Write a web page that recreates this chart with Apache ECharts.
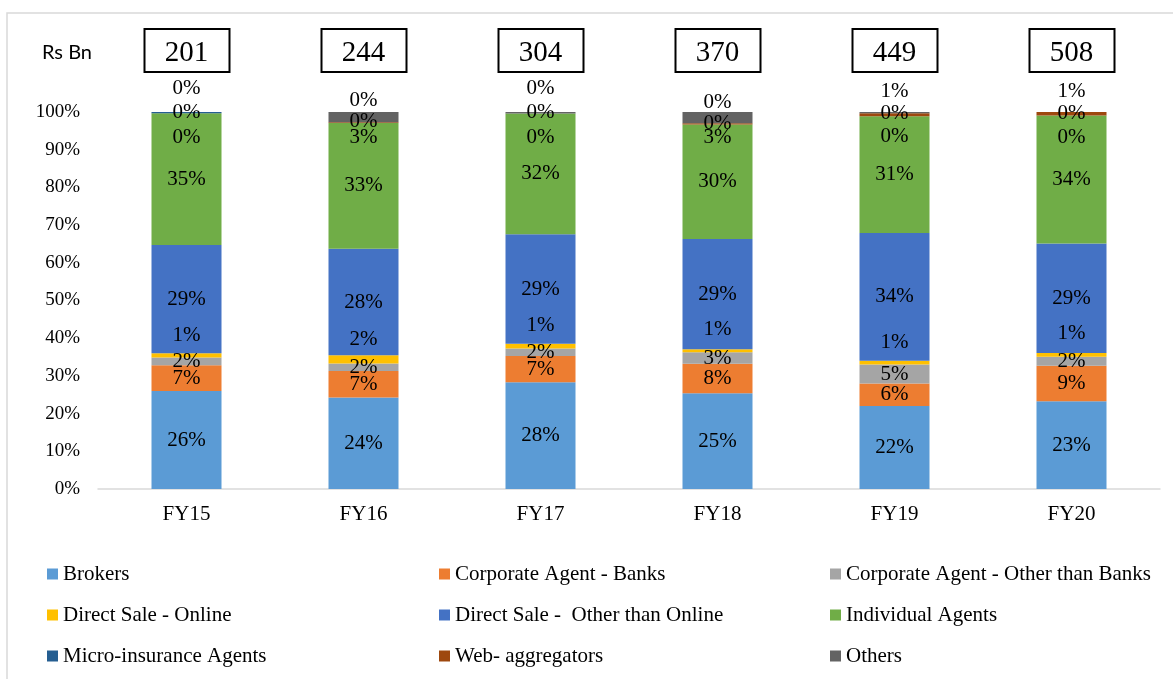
<!DOCTYPE html>
<html>
<head>
<meta charset="utf-8">
<title>Channel mix</title>
<script src="https://cdn.jsdelivr.net/npm/echarts@6/dist/echarts.min.js"></script>
<style>
  html, body { margin: 0; padding: 0; background: #fff; }
  #chart { width: 1173px; height: 679px; }
</style>
</head>
<body>
<div id="chart"></div>
<script>
// Fiscal years and total premium (Rs Bn)
const categories = ['FY15', 'FY16', 'FY17', 'FY18', 'FY19', 'FY20'];
const totals = [201, 244, 304, 370, 449, 508];

// Channel share of premium, % of total
const brokers    = [26.0, 24.3, 28.3, 25.4, 22.0, 23.3];
const corpBanks  = [6.8, 7.0, 7.0, 7.8, 6.0, 9.4];
const corpOther  = [2.1, 2.0, 2.0, 3.1, 5.0, 2.4];
const dsOnline   = [1.1, 2.2, 1.2, 0.8, 1.0, 1.0];
const dsOther    = [28.7, 28.2, 29.1, 29.2, 33.9, 29.0];
const individual = [35.0, 33.4, 32.0, 30.4, 31.0, 34.0];
const micro      = [0.3, 0, 0, 0, 0, 0];
const webAgg     = [0, 0.2, 0, 0.3, 0.8, 0.9];
const others     = [0, 2.7, 0.4, 3.0, 0.3, 0];

const yTicks = [0, 10, 20, 30, 40, 50, 60, 70, 80, 90, 100];

// Vertical nudges (px) that keep labels of thin segments apart
const onlineNudge = [-20, -20, -21, -21, -20, -21];
const webNudge    = [-24, -22, -25, -21, -23, -22];
const microNudge  = [0, -1, -1, -1, -3, -2];
const othersNudge = [25, 20, 25, 20, 24, 25];

const serif = 'Liberation Serif';
const labelFont = { fontFamily: serif, fontSize: 21, color: '#000' };

const seriesDefs = [
  { name: 'Brokers', data: brokers, color: '#5B9BD5' },
  { name: 'Corporate Agent - Banks', data: corpBanks, color: '#ED7D31' },
  { name: 'Corporate Agent - Other than Banks', data: corpOther, color: '#A5A5A5' },
  { name: 'Direct Sale - Online', data: dsOnline, color: '#FFC000', nudge: onlineNudge },
  { name: 'Direct Sale -  Other than Online', data: dsOther, color: '#4472C4' },
  { name: 'Individual Agents', data: individual, color: '#70AD47' },
  { name: 'Micro-insurance Agents', data: micro, color: '#255E91', nudge: microNudge },
  { name: 'Web- aggregators', data: webAgg, color: '#9E480E', nudge: webNudge },
  { name: 'Others', data: others, color: '#636363', nudge: othersNudge }
];

const series = seriesDefs.map(d => ({
  name: d.name,
  type: 'bar',
  stack: 'share',
  barWidth: 70,
  itemStyle: { color: d.color },
  label: Object.assign({
    show: true,
    position: 'inside',
    formatter: p => Math.round(p.value) + '%'
  }, labelFont),
  labelLayout: d.nudge
    ? (p => ({ dy: d.nudge[p.dataIndex], hideOverlap: false }))
    : { hideOverlap: false },
  data: d.data
}));

const legendCommon = {
  orient: 'vertical',
  top: 563,
  padding: 0,
  itemWidth: 11,
  itemHeight: 11,
  itemGap: 19,
  icon: 'rect',
  selectedMode: false,
  textStyle: { fontFamily: serif, fontSize: 21, color: '#000', lineHeight: 22 }
};

const chart = echarts.init(document.getElementById('chart'), null, { renderer: 'canvas' });

chart.setOption({
  animation: false,
  backgroundColor: '#fff',
  grid: { left: 98, right: 13, top: 112, bottom: 190, containLabel: false },
  xAxis: {
    type: 'category',
    data: categories,
    axisLine: { show: true, lineStyle: { color: '#D9D9D9', width: 1.5 } },
    axisTick: { show: false },
    axisLabel: { fontFamily: serif, fontSize: 21, color: '#000', margin: 15 }
  },
  yAxis: {
    type: 'value',
    min: yTicks[0],
    max: yTicks[yTicks.length - 1],
    interval: 10,
    splitLine: { show: false },
    axisLine: { show: false },
    axisTick: { show: false },
    axisLabel: { fontFamily: serif, fontSize: 19, color: '#000', margin: 18, formatter: v => v + '%' }
  },
  legend: [
    Object.assign({ left: 47, data: ['Brokers', 'Direct Sale - Online', 'Micro-insurance Agents'] }, legendCommon),
    Object.assign({ left: 439, data: ['Corporate Agent - Banks', 'Direct Sale -  Other than Online', 'Web- aggregators'] }, legendCommon),
    Object.assign({ left: 830, data: ['Corporate Agent - Other than Banks', 'Individual Agents', 'Others'] }, legendCommon)
  ],
  series: series
});

// Frame, unit caption and boxed totals above each bar
const graphics = [
  {
    type: 'rect', silent: true, z: -1,
    shape: { x: 7, y: 13, width: 1180, height: 700 },
    style: { fill: 'none', stroke: '#D9D9D9', lineWidth: 1.5 }
  },
  {
    type: 'text', x: 67, y: 53,
    style: { text: 'Rs Bn', fontFamily: 'Lato', fontSize: 20, fill: '#000', align: 'center', verticalAlign: 'middle' }
  }
];
categories.forEach((c, i) => {
  const cx = chart.convertToPixel({ xAxisIndex: 0 }, c);
  graphics.push({
    type: 'rect',
    shape: { x: Math.round(cx) - 42.5, y: 29, width: 85, height: 43 },
    style: { fill: '#fff', stroke: '#000', lineWidth: 2 }
  });
  graphics.push({
    type: 'text', x: cx, y: 53,
    style: { text: String(totals[i]), fontFamily: serif, fontSize: 29, fill: '#000', align: 'center', verticalAlign: 'middle' }
  });
});
chart.setOption({ graphic: graphics });
</script>
</body>
</html>
